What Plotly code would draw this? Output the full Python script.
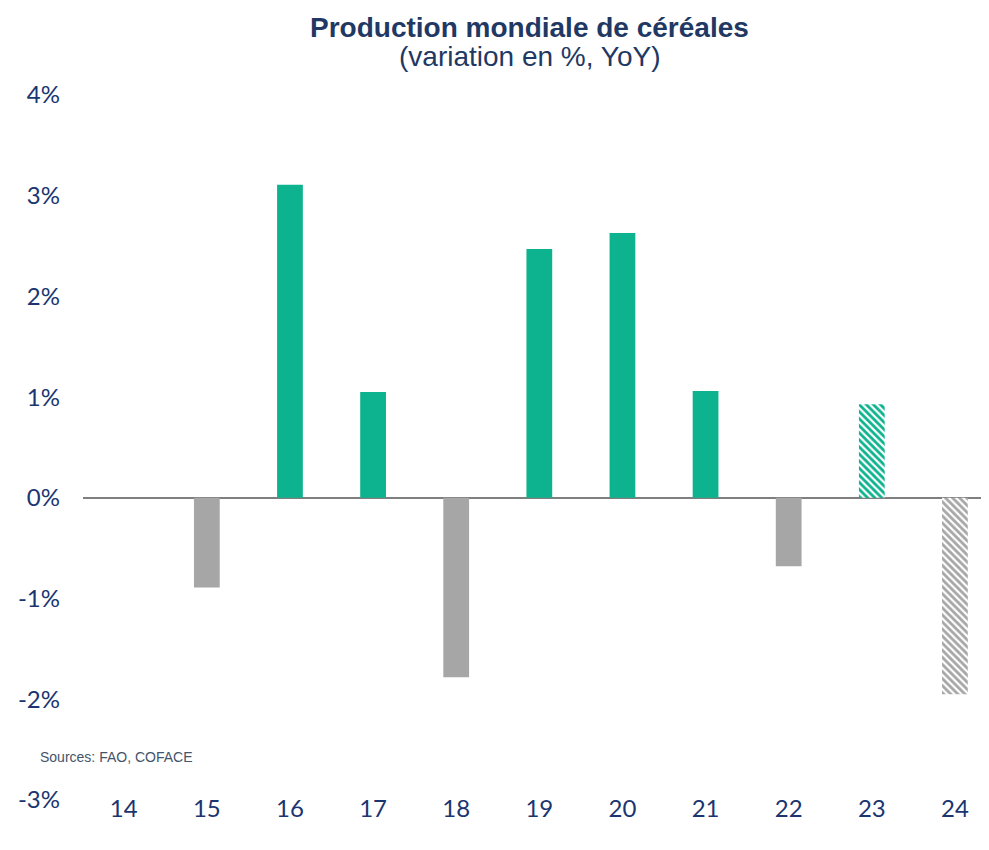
import plotly.graph_objects as go

years = ["14", "15", "16", "17", "18", "19", "20", "21", "22", "23", "24"]
values = [0.0, -0.89, 3.11, 1.05, -1.78, 2.47, 2.63, 1.06, -0.68, 0.93, -1.95]
forecast = [False, False, False, False, False, False, False, False, False, True, True]

GREEN = "#0DB38E"
GRAY = "#A6A6A6"
NAVY = "#1F3864"
TICK = "#1A3570"

W, H = 981, 842
L, T, B = 75, 87, 50
PW, PH = W - L, H - T - B

xs = list(range(len(years)))

fig = go.Figure()
# actual values
fig.add_trace(go.Bar(
    x=[x for x, f in zip(xs, forecast) if not f],
    y=[v for v, f in zip(values, forecast) if not f],
    width=0.31,
    marker=dict(color=[GREEN if v >= 0 else GRAY for v, f in zip(values, forecast) if not f],
                line=dict(width=0)),
    showlegend=False, hoverinfo="skip",
))
# forecasts (hatched)
for sign, col in ((1, GREEN), (-1, GRAY)):
    fx = [x for x, v, f in zip(xs, values, forecast) if f and (v >= 0) == (sign > 0)]
    fy = [v for v, f in zip(values, forecast) if f and (v >= 0) == (sign > 0)]
    fig.add_trace(go.Bar(
        x=fx, y=fy, width=0.31,
        marker=dict(color="white", line=dict(width=0),
                    pattern=dict(shape="\\", fgcolor=col, bgcolor="white",
                                 size=5, solidity=0.55, fillmode="replace")),
        showlegend=False, hoverinfo="skip",
    ))

fig.update_layout(
    width=W, height=H, barmode="overlay",
    margin=dict(l=L, r=0, t=T, b=B),
    paper_bgcolor="white", plot_bgcolor="white",
    xaxis=dict(
        tickmode="array", tickvals=xs, ticktext=years,
        range=[-0.49, 10.41], showgrid=False, zeroline=False, showline=False,
        ticks="", ticklabelstandoff=-8,
        tickfont=dict(family="Lato, Carlito, sans-serif", size=24, color=TICK),
    ),
    yaxis=dict(
        range=[-3, 4], showgrid=False,
        tickvals=[-3, -2, -1, 0, 1, 2, 3, 4],
        ticktext=["-3%", "-2%", "-1%", "0%", "1%", "2%", "3%", "4%"],
        zeroline=True, zerolinecolor="#7F7F7F", zerolinewidth=1.5,
        showline=False, ticks="", ticklabelstandoff=22,
        tickfont=dict(family="Lato, Carlito, sans-serif", size=24, color=TICK),
    ),
)

def px_x(px):
    return (px - L) / PW

def px_y(py):
    return (H - B - py) / PH

fig.add_annotation(
    text="<b>Production mondiale de céréales</b>",
    xref="paper", yref="paper", x=px_x(521), y=px_y(19),
    xanchor="center", yanchor="middle", showarrow=False,
    font=dict(family="Liberation Sans, Arial", size=28, color=NAVY),
)
fig.add_annotation(
    text="(variation en %, YoY)",
    xref="paper", yref="paper", x=px_x(522), y=px_y(49),
    xanchor="center", yanchor="middle", showarrow=False,
    font=dict(family="Liberation Sans, Arial", size=28, color=NAVY),
)
fig.add_annotation(
    text="Sources: FAO, COFACE",
    xref="paper", yref="paper", x=px_x(30), y=px_y(749),
    xanchor="left", yanchor="middle", showarrow=False,
    font=dict(family="Liberation Sans, Arial", size=14, color="#44546A"),
)

fig.write_html("out.html")
